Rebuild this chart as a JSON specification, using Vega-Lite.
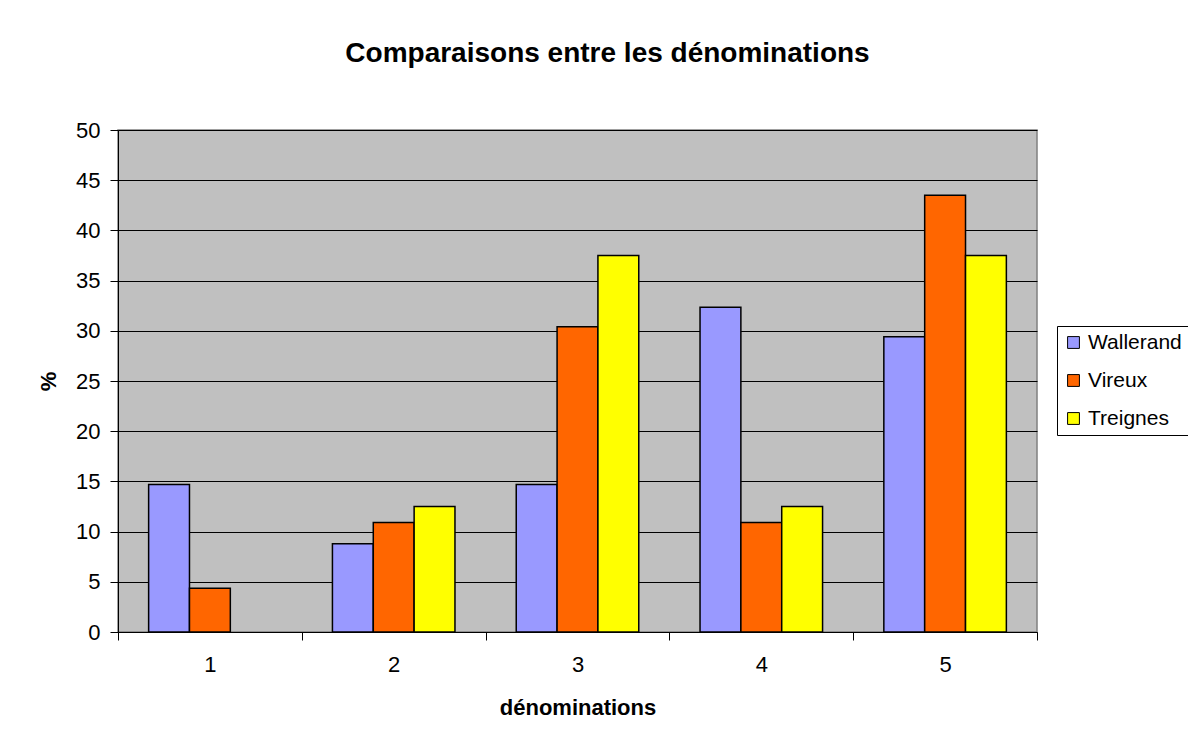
{
  "$schema": "https://vega.github.io/schema/vega-lite/v6.json",
  "width": 919,
  "height": 502,
  "autosize": {"type": "none"},
  "padding": {"left": 118, "top": 130, "right": 151, "bottom": 108},
  "background": "white",
  "title": {
    "text": "Comparaisons entre les dénominations",
    "font": "Liberation Sans",
    "fontSize": 28,
    "fontWeight": "bold",
    "color": "black",
    "anchor": "middle",
    "frame": "group",
    "dx": 30,
    "baseline": "alphabetic",
    "offset": 29
  },
  "data": {
    "values": [
      {"d": "1", "serie": "Wallerand", "pct": 14.7},
      {"d": "1", "serie": "Vireux", "pct": 4.35},
      {"d": "1", "serie": "Treignes", "pct": 0},
      {"d": "2", "serie": "Wallerand", "pct": 8.8},
      {"d": "2", "serie": "Vireux", "pct": 10.9},
      {"d": "2", "serie": "Treignes", "pct": 12.5},
      {"d": "3", "serie": "Wallerand", "pct": 14.7},
      {"d": "3", "serie": "Vireux", "pct": 30.4},
      {"d": "3", "serie": "Treignes", "pct": 37.5},
      {"d": "4", "serie": "Wallerand", "pct": 32.35},
      {"d": "4", "serie": "Vireux", "pct": 10.9},
      {"d": "4", "serie": "Treignes", "pct": 12.5},
      {"d": "5", "serie": "Wallerand", "pct": 29.4},
      {"d": "5", "serie": "Vireux", "pct": 43.5},
      {"d": "5", "serie": "Treignes", "pct": 37.5}
    ]
  },
  "transform": [{"filter": "datum.pct > 0"}],
  "mark": {"type": "bar", "stroke": "black", "strokeWidth": 1.5},
  "encoding": {
    "x": {
      "field": "d",
      "type": "nominal",
      "scale": {"paddingInner": 0, "paddingOuter": 0},
      "axis": {
        "title": "dénominations",
        "titleFont": "Liberation Sans",
        "titleFontSize": 22,
        "titleFontWeight": "bold",
        "titleColor": "black",
        "titleBaseline": "alphabetic",
        "titleY": 82,
        "labelAngle": 0,
        "labelFont": "Liberation Sans",
        "labelFontSize": 22,
        "labelColor": "black",
        "labelPadding": 14,
        "tickBand": "extent",
        "tickSize": 8,
        "tickColor": "black",
        "domainColor": "black",
        "grid": false
      }
    },
    "xOffset": {
      "field": "serie",
      "type": "nominal",
      "sort": ["Wallerand", "Vireux", "Treignes"],
      "scale": {"domain": ["Wallerand", "Vireux", "Treignes"], "paddingInner": 0, "paddingOuter": 0.75}
    },
    "y": {
      "field": "pct",
      "type": "quantitative",
      "scale": {"domain": [0, 50], "nice": false},
      "axis": {
        "title": "%",
        "titleFont": "Liberation Sans",
        "titleFontSize": 22,
        "titleFontWeight": "bold",
        "titleColor": "black",
        "titleX": -70,
        "titleY": 251,
        "titleAngle": -90,
        "titleBaseline": "middle",
        "titleAlign": "center",
        "values": [0, 5, 10, 15, 20, 25, 30, 35, 40, 45, 50],
        "labelFont": "Liberation Sans",
        "labelFontSize": 22,
        "labelColor": "black",
        "labelPadding": 10,
        "tickSize": 8,
        "tickColor": "black",
        "domainColor": "black",
        "grid": true,
        "gridColor": "black",
        "gridWidth": 1
      }
    },
    "color": {
      "field": "serie",
      "type": "nominal",
      "sort": ["Wallerand", "Vireux", "Treignes"],
      "scale": {
        "domain": ["Wallerand", "Vireux", "Treignes"],
        "range": ["#9999FF", "#FF6600", "#FFFF00"]
      },
      "legend": {
        "title": null,
        "orient": "none",
        "legendX": 939,
        "legendY": 196,
        "fillColor": "white",
        "strokeColor": "black",
        "padding": 6,
        "rowPadding": 16,
        "labelOffset": 4,
        "symbolType": "square",
        "symbolSize": 140,
        "symbolStrokeColor": "black",
        "symbolStrokeWidth": 1,
        "labelFont": "Liberation Sans",
        "labelFontSize": 21,
        "labelColor": "black",
        "labelLimit": 300
      }
    }
  },
  "config": {
    "view": {"fill": "#C0C0C0", "stroke": "#808080", "strokeWidth": 1.5}
  }
}
